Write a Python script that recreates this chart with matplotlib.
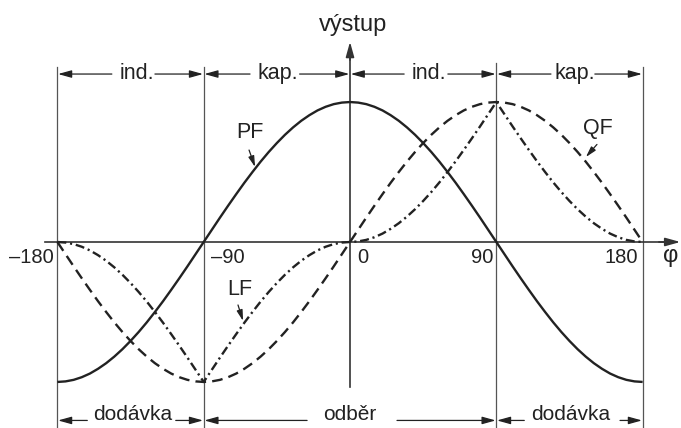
import matplotlib
matplotlib.use('Agg')
from matplotlib import pyplot as plt

plt.rcParams['font.family'] = ['Liberation Sans', 'DejaVu Sans']

# phase angle in degrees, 5 degree steps
phi = list(range(-180, 185, 5))

# PF (solid)
pf = [-1.000, -0.996, -0.985, -0.966, -0.940, -0.906, -0.866, -0.819, -0.766, -0.707,
      -0.643, -0.574, -0.500, -0.423, -0.342, -0.259, -0.174, -0.087, 0.000,
      0.087, 0.174, 0.259, 0.342, 0.423, 0.500, 0.574, 0.643, 0.707,
      0.766, 0.819, 0.866, 0.906, 0.940, 0.966, 0.985, 0.996, 1.000,
      0.996, 0.985, 0.966, 0.940, 0.906, 0.866, 0.819, 0.766, 0.707,
      0.643, 0.574, 0.500, 0.423, 0.342, 0.259, 0.174, 0.087, 0.000,
      -0.087, -0.174, -0.259, -0.342, -0.423, -0.500, -0.574, -0.643, -0.707,
      -0.766, -0.819, -0.866, -0.906, -0.940, -0.966, -0.985, -0.996, -1.000]

# QF (dashed)
qf = [0.000, -0.087, -0.174, -0.259, -0.342, -0.423, -0.500, -0.574, -0.643, -0.707,
      -0.766, -0.819, -0.866, -0.906, -0.940, -0.966, -0.985, -0.996, -1.000,
      -0.996, -0.985, -0.966, -0.940, -0.906, -0.866, -0.819, -0.766, -0.707,
      -0.643, -0.574, -0.500, -0.423, -0.342, -0.259, -0.174, -0.087, 0.000,
      0.087, 0.174, 0.259, 0.342, 0.423, 0.500, 0.574, 0.643, 0.707,
      0.766, 0.819, 0.866, 0.906, 0.940, 0.966, 0.985, 0.996, 1.000,
      0.996, 0.985, 0.966, 0.940, 0.906, 0.866, 0.819, 0.766, 0.707,
      0.643, 0.574, 0.500, 0.423, 0.342, 0.259, 0.174, 0.087, 0.000]

# LF (dash-dot)
lf = [0.000, -0.004, -0.015, -0.034, -0.060, -0.094, -0.134, -0.181, -0.234, -0.293,
      -0.357, -0.426, -0.500, -0.577, -0.658, -0.741, -0.826, -0.913, -1.000,
      -0.913, -0.826, -0.741, -0.658, -0.577, -0.500, -0.426, -0.357, -0.293,
      -0.234, -0.181, -0.134, -0.094, -0.060, -0.034, -0.015, -0.004, 0.000,
      0.004, 0.015, 0.034, 0.060, 0.094, 0.134, 0.181, 0.234, 0.293,
      0.357, 0.426, 0.500, 0.577, 0.658, 0.741, 0.826, 0.913, 1.000,
      0.913, 0.826, 0.741, 0.658, 0.577, 0.500, 0.426, 0.357, 0.293,
      0.234, 0.181, 0.134, 0.094, 0.060, 0.034, 0.015, 0.004, 0.000]

tick_pos = [-180, -90, 0, 90, 180]
tick_txt = ['\u2013180', '\u201390', '0', '90', '180']

top_labels = ['ind.', 'kap.', 'ind.', 'kap.']
bottom_labels = ['dodávka', 'odběr', 'dodávka']

FS = 14.5
FS_LAB = 15.5
INK = '#222222'
GRID = '#555555'

fig = plt.figure(figsize=(6.81, 4.28), dpi=100)
ax = fig.add_axes([0, 0, 1, 1])
ax.set_xlim(-215.3, 203.6)
ax.set_ylim(-1.329, 1.729)
ax.axis('off')

# vertical guide lines
for x, top in [(-180, 1.25), (-90, 1.25), (90, 1.279), (180, 1.25)]:
    ax.plot([x, x], [-1.35, top], color=GRID, lw=0.9)

# axes with arrows
arr = '-|>,head_length=0.9,head_width=0.25'
ax.plot([-187.6, 195], [0, 0], color='#333333', lw=1.2)
ax.annotate('', xy=(203.2, 0), xytext=(190, 0),
            arrowprops=dict(arrowstyle=arr, mutation_scale=10, color='#333333',
                            lw=1.2, shrinkA=0, shrinkB=0))
ax.plot([0, 0], [-1.036, 1.35], color='#333333', lw=1.2)
ax.annotate('', xy=(0, 1.43), xytext=(0, 1.3),
            arrowprops=dict(arrowstyle=arr, mutation_scale=10, color='#333333',
                            lw=1.2, shrinkA=0, shrinkB=0))
ax.text(2, 1.507, 'výstup', fontsize=17, ha='center', va='baseline', color=INK)
ax.text(197.5, -0.143, 'φ', fontsize=17, ha='center', va='baseline', color=INK)

# curves
ax.plot(phi, pf, color=INK, lw=1.7, solid_capstyle='butt')
ax.plot(phi, qf, color=INK, lw=1.7, dashes=(4.5, 2.6))
ax.plot(phi, lf, color=INK, lw=1.7, dashes=(3.8, 1.6, 0.9, 1.6))

# tick labels
for x, s, ha, dx in zip(tick_pos, tick_txt, ['right', 'left', 'left', 'right', 'right'],
                        [-2, 4.5, 4.3, -2, -3]):
    ax.text(x + dx, -0.15, s, fontsize=FS, ha=ha, va='baseline', color=INK)

# curve labels with pointers
small = '-|>,head_length=0.8,head_width=0.22'
for name, tx, ty, ax0, ay0, ax1, ay1 in [('PF', -61.5, 0.74, -62.1, 0.657, -58.4, 0.536),
                                         ('LF', -68.0, -0.38, -68.9, -0.45, -65.8, -0.564),
                                         ('QF', 152.5, 0.77, 151.9, 0.697, 145.1, 0.607)]:
    ax.text(tx, ty, name, fontsize=FS_LAB, ha='center', va='baseline', color=INK)
    ax.annotate('', xy=(ax1, ay1), xytext=(ax0, ay0),
                arrowprops=dict(arrowstyle=small, mutation_scale=8, color=INK,
                                lw=0.9, shrinkA=0, shrinkB=0))

# range brackets
def bracket(label, cx, y_txt, y_arr, l_start, l_end, r_start, r_end, fs):
    ax.text(cx, y_txt, label, fontsize=fs, ha='center', va='baseline', color=INK)
    for a, b in [(l_start, l_end), (r_start, r_end)]:
        ax.annotate('', xy=(b, y_arr), xytext=(a, y_arr),
                    arrowprops=dict(arrowstyle=arr, mutation_scale=9, color=INK,
                                    lw=0.9, shrinkA=0, shrinkB=0))

top_geo = [(-131.0, -146.5, -179.6, -120.0, -90.4),
           (-44.3, -61.5, -89.6, -31.0, -0.4),
           (48.3, 33.3, 0.4, 60.2, 89.6),
           (138.4, 123.6, 90.4, 150.6, 179.6)]
for lab, g in zip(top_labels, top_geo):
    bracket(lab, g[0], 1.164, 1.2, *g[1:], FS_LAB)

bot_geo = [(-133.8, -161.6, -179.6, -107.2, -90.4),
           (0.0, -26.4, -89.6, 28.9, 89.6),
           (135.9, 107.2, 90.4, 166.1, 179.6)]
for lab, g in zip(bottom_labels, bot_geo):
    bracket(lab, g[0], -1.272, -1.275, *g[1:], 15)

fig.savefig('out.png', dpi=100)
